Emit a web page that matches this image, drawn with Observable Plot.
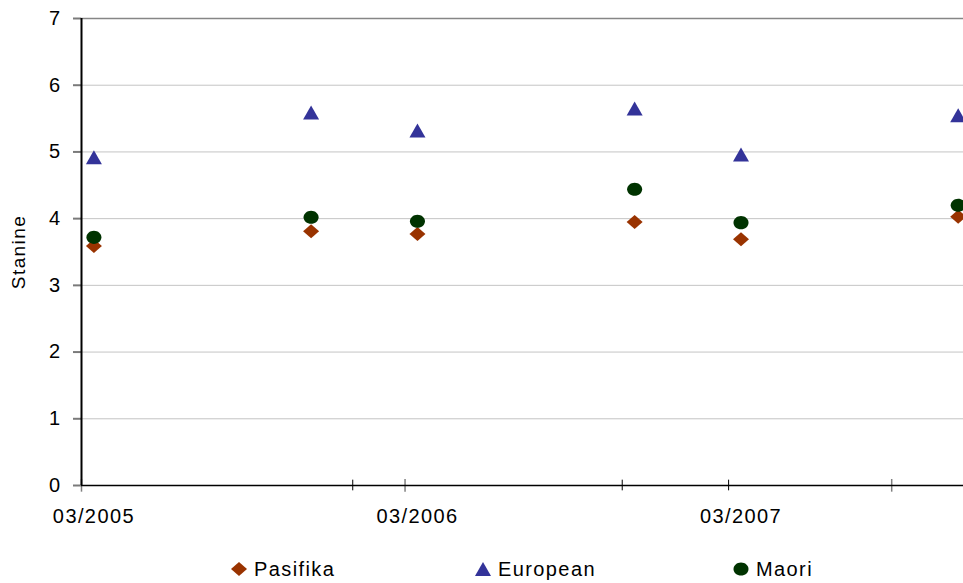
<!DOCTYPE html>
<html>
<head>
<meta charset="utf-8">
<script src="https://cdn.jsdelivr.net/npm/d3@7"></script>
<script src="https://cdn.jsdelivr.net/npm/@observablehq/plot@0.6"></script>
<style>
  body { margin: 0; background: #fff; font-family: "Liberation Sans", Arial, sans-serif; }
  #chart { position: relative; width: 963px; height: 583px; overflow: hidden; }
  #chart svg text { letter-spacing: 1.4px; }
  .legend { position: absolute; left: 0; top: 550px; width: 963px; height: 38px; }
  .item { position: absolute; top: 0; height: 38px; display: flex; align-items: center;
          font-size: 20px; letter-spacing: 1.4px; color: #000; white-space: nowrap; }
  .item svg { margin-right: 7px; }
</style>
</head>
<body>
<div id="chart"></div>
<script>
// Test dates (mid-March and mid-November rounds)
const testDates = ["2005-03-15", "2005-11-15", "2006-03-15", "2006-11-15", "2007-03-15", "2007-11-15"];

// Mean stanine per group
const pasifika = [3.59, 3.81, 3.77, 3.95, 3.69, 4.03];
const european = [4.92, 5.59, 5.32, 5.65, 4.96, 5.55];
const maori    = [3.72, 4.02, 3.96, 4.44, 3.94, 4.20];

const seriesNames  = ["Pasifika", "European", "Maori"];
const seriesColors = ["#993300", "#333399", "#003300"];

const yTicks = [0, 1, 2, 3, 4, 5, 6, 7];
const xLabelDates = ["2005-03-15", "2006-03-15", "2007-03-15"];
const xMajorTicks = ["2005-03-01", "2006-03-01", "2007-09-01"];
const xMinorTicks = ["2006-01-01", "2006-11-01", "2007-03-01"];
const xDomain = ["2005-03-01", "2007-11-21"];

const legendSymbolX = [239, 483, 741];

// Marker shapes; half-width comes from the size Plot passes in (size = πr²)
const halfWidth = size => Math.sqrt(size / Math.PI);
const diamond = {
  draw(ctx, size) {
    const r = halfWidth(size), h = r * 0.875;
    ctx.moveTo(0, -h); ctx.lineTo(r, 0); ctx.lineTo(0, h); ctx.lineTo(-r, 0); ctx.closePath();
  }
};
const triangle = {
  draw(ctx, size) {
    const r = halfWidth(size), h = r * 0.875;
    ctx.moveTo(0, -h); ctx.lineTo(r, h); ctx.lineTo(-r, h); ctx.closePath();
  }
};
const oval = {
  draw(ctx, size) {
    const r = halfWidth(size), rx = r * 0.94, ry = r * 0.82, k = 0.5523;
    ctx.moveTo(rx, 0);
    ctx.bezierCurveTo(rx, ry * k, rx * k, ry, 0, ry);
    ctx.bezierCurveTo(-rx * k, ry, -rx, ry * k, -rx, 0);
    ctx.bezierCurveTo(-rx, -ry * k, -rx * k, -ry, 0, -ry);
    ctx.bezierCurveTo(rx * k, -ry, rx, -ry * k, rx, 0);
    ctx.closePath();
  }
};
const seriesSymbols = [diamond, triangle, oval];
const seriesValues = [pasifika, european, maori];

const toDate = s => new Date(s + "T00:00:00Z");
const rowsFor = values => testDates.map((d, i) => ({date: toDate(d), value: values[i]}));

const dotMarks = seriesValues.map((values, s) =>
  Plot.dot(rowsFor(values), {
    x: "date", y: "value", r: 8,
    symbol: seriesSymbols[s], fill: seriesColors[s], stroke: "none"
  })
);

const chart = Plot.plot({
  width: 963,
  height: 545,
  marginLeft: 81,
  marginRight: 0,
  marginTop: 18,
  marginBottom: 60,
  style: {fontFamily: "'Liberation Sans', Arial, sans-serif", fontSize: "20px", color: "#000", background: "#fff", overflow: "visible"},
  x: {type: "utc", domain: xDomain.map(toDate)},
  y: {domain: [0, 7]},
  marks: [
    Plot.ruleY(yTicks.filter(d => d > 0 && d < 7), {stroke: "#c4c4c4", strokeWidth: 1}),
    Plot.ruleY([7], {stroke: "#868686", strokeWidth: 1.5}),
    Plot.axisY({ticks: yTicks, tickSize: 8, tickPadding: 12, stroke: "#7a7a7a", strokeWidth: 2,
                tickFormat: d => String(d), fontSize: 20, fill: "#000", label: null}),
    Plot.axisX({ticks: xLabelDates.map(toDate), tickSize: 0, tickPadding: 23, fontSize: 20, fill: "#000",
                tickFormat: d3.utcFormat("%m/%Y"), label: null}),
    Plot.ruleX(xMajorTicks.map(toDate), {y1: -0.1, y2: 0.09, stroke: "#808080", strokeWidth: 1.5}),
    Plot.ruleX(xMinorTicks.map(toDate), {y1: -0.08, y2: 0.08, stroke: "#000", strokeWidth: 1}),
    Plot.ruleY([0], {stroke: "#000", strokeWidth: 1.5}),
    Plot.ruleX([toDate(xDomain[0])], {stroke: "#000", strokeWidth: 2}),
    ...dotMarks,
    Plot.text(["Stanine"], {frameAnchor: "left", textAnchor: "middle", rotate: -90, dx: -63,
                            fontSize: 19, fill: "#000"})
  ]
});

const root = document.getElementById("chart");
root.appendChild(chart);

// Legend below the plot
const legend = d3.select(root).append("div").attr("class", "legend");
seriesNames.forEach((name, i) => {
  const item = legend.append("div").attr("class", "item").style("left", (legendSymbolX[i] - 8) + "px");
  const p = d3.path();
  seriesSymbols[i].draw(p, 8 * 8 * Math.PI);
  item.append("svg").attr("width", 16).attr("height", 16)
    .append("path").attr("transform", "translate(8,8)").attr("d", p.toString()).attr("fill", seriesColors[i]);
  item.append("span").text(name);
});
</script>
</body>
</html>
